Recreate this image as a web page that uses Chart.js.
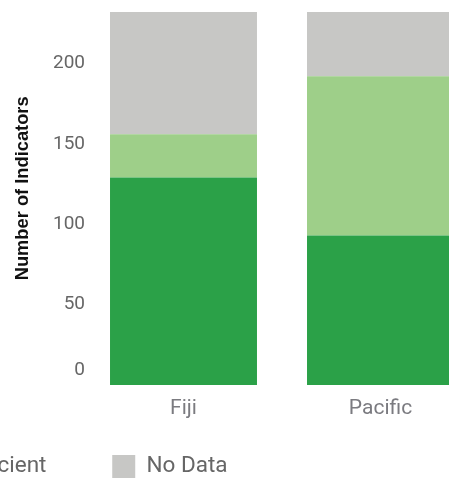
<!DOCTYPE html>
<html>
<head>
<meta charset="utf-8">
<script src="https://cdn.jsdelivr.net/npm/chart.js@4.4.0/dist/chart.umd.min.js"></script>
<style>
  html, body { margin: 0; padding: 0; background: #fff; overflow: hidden; }
  #wrap { position: absolute; left: -544px; top: 0; width: 1023px; height: 482px; }
</style>
</head>
<body>
<div id="wrap"><canvas id="indicatorChart"></canvas></div>
<script>
const regions = ['Fiji', 'Pacific'];
const seriesNames = ['Sufficient', 'Insufficient', 'No Data'];
const sufficient = [129, 93];
const insufficient = [27, 99];
const noData = [76, 40];
const yTicks = [0, 50, 100, 150, 200];

// the panel is wider than the window, so it is slid left
const shift = 544;
const legendGap = '          ';

const totals = regions.map(function (r, i) { return sufficient[i] + insufficient[i] + noData[i] });

new Chart('indicatorChart', {
    type: 'bar',
    data: {
        labels: regions,
        datasets: [{
            label: seriesNames[0],
            data: sufficient,
            backgroundColor: '#2ba148'
        },
        {
            label: seriesNames[1],
            data: insufficient,
            backgroundColor: '#9ecf89'
        },
        {
            label: seriesNames[2],
            data: noData,
            backgroundColor: '#c7c7c5'
        }]
    },
    options: {
        responsive: true,
        maintainAspectRatio: false,
        animation: false,
        layout: {
            padding: { top: 12, right: 0, bottom: -6, left: 0 }
        },
        datasets: {
            bar: {
                categoryPercentage: 1,
                barPercentage: 0.746
            }
        },
        scales: {
            x: {
                stacked: true,
                grid: { display: false, drawTicks: false },
                border: { display: false },
                ticks: {
                    padding: 11.5,
                    color: '#7b7b80',
                    font: { family: 'Roboto', size: 21 }
                },
                afterFit: function (scale) { scale.height = 60; }
            },
            y: {
                stacked: true,
                min: 0,
                max: Math.max(...totals),
                grid: { display: false, drawTicks: false },
                border: { display: false },
                afterBuildTicks: function (scale) {
                    scale.ticks = yTicks.map(function (v) { return { value: v } });
                },
                afterFit: function (scale) { scale.width = shift + 85; },
                ticks: {
                    padding: 0,
                    color: '#666',
                    // the zero label is lifted above the baseline with an empty second line
                    callback: function (value) { return value === 0 ? ['0', ''] : value; },
                    font: function (ctx) {
                        let zero = ctx.tick && ctx.tick.value === 0;
                        return { family: 'Roboto', size: 19, lineHeight: zero ? '30px' : 1.2 };
                    }
                },
                title: {
                    display: true,
                    // leading spaces nudge the rotated title a little upwards
                    text: '    Number of Indicators',
                    color: '#111',
                    font: { family: 'Liberation Sans', size: 18.3, weight: 'bold' },
                    padding: { top: shift + 23 - 11, bottom: 0 }
                }
            }
        },
        plugins: {
            legend: {
                position: 'bottom',
                labels: {
                    boxWidth: 23,
                    boxHeight: 23,
                    padding: 10,
                    color: '#666',
                    font: { family: 'Roboto', size: 22.5 },
                    // wide gaps between the legend entries
                    generateLabels: function (chart) {
                        let items = Chart.defaults.plugins.legend.labels.generateLabels(chart);
                        items.forEach(function (item, i) {
                            if (i < items.length - 1) item.text = item.text + legendGap;
                        });
                        return items;
                    }
                }
            },
            tooltip: { enabled: false }
        }
    }
});
</script>
</body>
</html>
